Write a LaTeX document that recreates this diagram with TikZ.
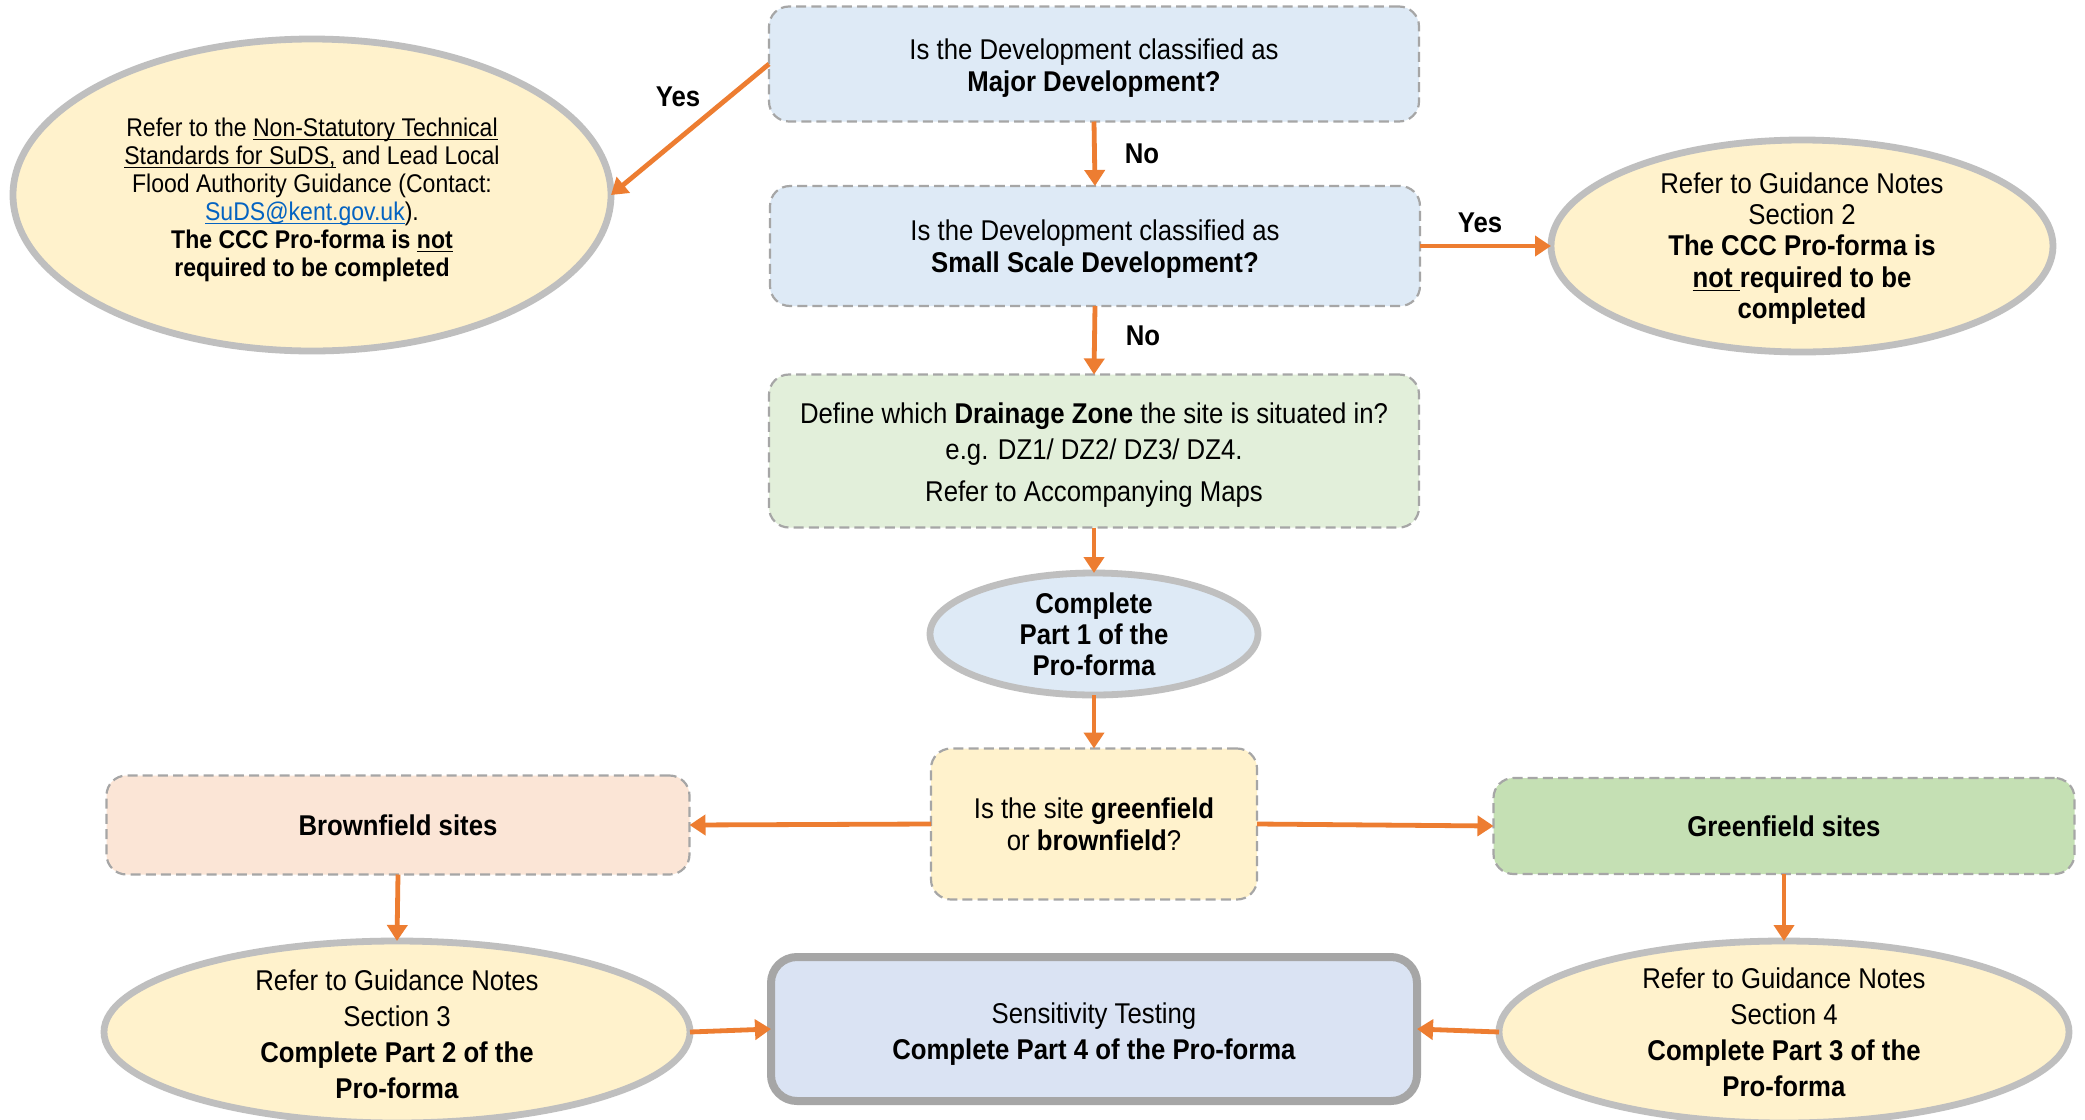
\documentclass[tikz,border=0pt]{standalone}
\usepackage{fontspec}
\setmainfont[FakeStretch=0.9]{Liberation Sans}
\usetikzlibrary{shapes.geometric,arrows.meta}
\newcommand{\undl}[1]{\underline{\smash{#1}}}
\newcommand{\topgap}[1]{\rule{0pt}{#1}}

\begin{document}
\begin{tikzpicture}[x=0.5pt,y=-0.5pt,
  every node/.style={align=center,inner sep=0pt,outer sep=0pt,text=black,font=\fontsize{14.3}{16}\selectfont},
  dashbox/.style={rectangle,draw=boxLine,line width=1.1pt,dash pattern=on 5pt off 2.6pt,rounded corners=10pt},
  ovalbox/.style={ellipse,draw=ovalLine,line width=3.4pt,inner sep=-8pt},
  flowArrow/.style={draw=arrowColor,line width=2.4pt,-{Triangle[length=8pt,width=10pt]}},
  answer/.style={font=\fontsize{14.3}{16}\selectfont\bfseries}]
\definecolor{boxLine}{RGB}{166,166,166}
\definecolor{ovalLine}{RGB}{191,191,191}
\definecolor{arrowColor}{RGB}{237,125,49}
\definecolor{blueFill}{RGB}{222,234,246}
\definecolor{greenFill}{RGB}{226,239,218}
\definecolor{ovalFill}{RGB}{255,242,204}
\definecolor{brownFill}{RGB}{251,229,214}
\definecolor{siteFill}{RGB}{197,224,180}
\definecolor{testFill}{RGB}{218,227,243}
\definecolor{linkBlue}{RGB}{5,99,193}
\path[use as bounding box,fill=white] (0,0) rectangle (2085,1120);

\node[dashbox,fill=blueFill,minimum width=325pt,minimum height=57.5pt] (major) at (1094,64) {\topgap{14.3pt}Is the Development classified as\\\textbf{Major Development?}};

\node[dashbox,fill=blueFill,minimum width=325pt,minimum height=60pt] (small) at (1095,246) {\topgap{13.7pt}Is the Development classified as\\\textbf{Small Scale Development?}};

\node[dashbox,fill=greenFill,minimum width=325pt,minimum height=76.5pt,font=\fontsize{14.3}{18}\selectfont] (zone) at (1094,451) {\topgap{14.3pt}Define which \textbf{Drainage Zone} the site is situated in?\\e.g. DZ1/ DZ2/ DZ3/ DZ4.\\[3pt]Refer to Accompanying Maps};

\node[ovalbox,fill=blueFill,minimum width=164pt,minimum height=61pt,font=\fontsize{14.3}{15.5}\selectfont\bfseries] (part1) at (1094,634) {Complete\\Part 1 of the\\Pro-forma};

\node[dashbox,fill=ovalFill,minimum width=163pt,minimum height=75.5pt] (site) at (1094,824) {Is the site \textbf{greenfield}\\or \textbf{brownfield}?};

\node[dashbox,fill=brownFill,minimum width=291.5pt,minimum height=49.5pt,font=\fontsize{14.3}{16}\selectfont\bfseries] (brown) at (398,825) {Brownfield sites};

\node[dashbox,fill=siteFill,minimum width=290.5pt,minimum height=48pt,font=\fontsize{14.3}{16}\selectfont\bfseries] (green) at (1784,826) {Greenfield sites};

\node[ovalbox,fill=ovalFill,minimum width=299pt,minimum height=156pt,font=\fontsize{12.8}{14}\selectfont] (lead) at (312,195) {\topgap{13.8pt}Refer to the \undl{Non-Statutory Technical}\\\undl{Standards for SuDS,} and Lead Local\\Flood Authority Guidance (Contact:\\\textcolor{linkBlue}{\undl{SuDS@kent.gov.uk}}).\\\textbf{The CCC Pro-forma is \undl{not}}\\\textbf{required to be completed}};

\node[ovalbox,fill=ovalFill,minimum width=251pt,minimum height=106pt,font=\fontsize{14.3}{15.6}\selectfont] (sec2) at (1802,246) {\topgap{12.9pt}Refer to Guidance Notes\\Section 2\\\textbf{The CCC Pro-forma is}\\\textbf{\undl{not }required to be}\\\textbf{completed}};

\node[ovalbox,fill=ovalFill,minimum width=293pt,minimum height=91pt,font=\fontsize{14.3}{18}\selectfont] (sec3) at (397,1032) {\topgap{12.9pt}Refer to Guidance Notes\\Section 3\\\textbf{Complete Part 2 of the}\\\textbf{Pro-forma}};

\node[ovalbox,fill=ovalFill,minimum width=285pt,minimum height=91pt,font=\fontsize{14.3}{18}\selectfont] (sec4) at (1784,1032) {Refer to Guidance Notes\\Section 4\\\textbf{Complete Part 3 of the}\\\textbf{Pro-forma}};

\node[rectangle,draw=boxLine,line width=4pt,rounded corners=13pt,fill=testFill,minimum width=323pt,minimum height=72pt,font=\fontsize{14.3}{18}\selectfont] (test) at (1094,1029) {\topgap{15.6pt}Sensitivity Testing\\\textbf{Complete Part 4 of the Pro-forma}};

\node[answer] (yesMajor) at (678,97) {Yes};

\node[answer] (noMajor) at (1142,154) {No};

\node[answer] (yesSmall) at (1480,223) {Yes};

\node[answer] (noSmall) at (1143,336) {No};

\path[flowArrow] (major.west) -- (lead.east);
\path[flowArrow] (major.south) -- (small.north);
\path[flowArrow] (small.east) -- (sec2.west);
\path[flowArrow] (small.south) -- (zone.north);
\path[flowArrow] (zone.south) -- (part1.north);
\path[flowArrow] (part1.south) -- (site.north);
\path[flowArrow] (site.west) -- (brown.east);
\path[flowArrow] (site.east) -- (green.west);
\path[flowArrow] (brown.south) -- (sec3.north);
\path[flowArrow] (green.south) -- (sec4.north);
\path[flowArrow] (sec3.east) -- (test.west);
\path[flowArrow] (sec4.west) -- (test.east);
\end{tikzpicture}
\end{document}
